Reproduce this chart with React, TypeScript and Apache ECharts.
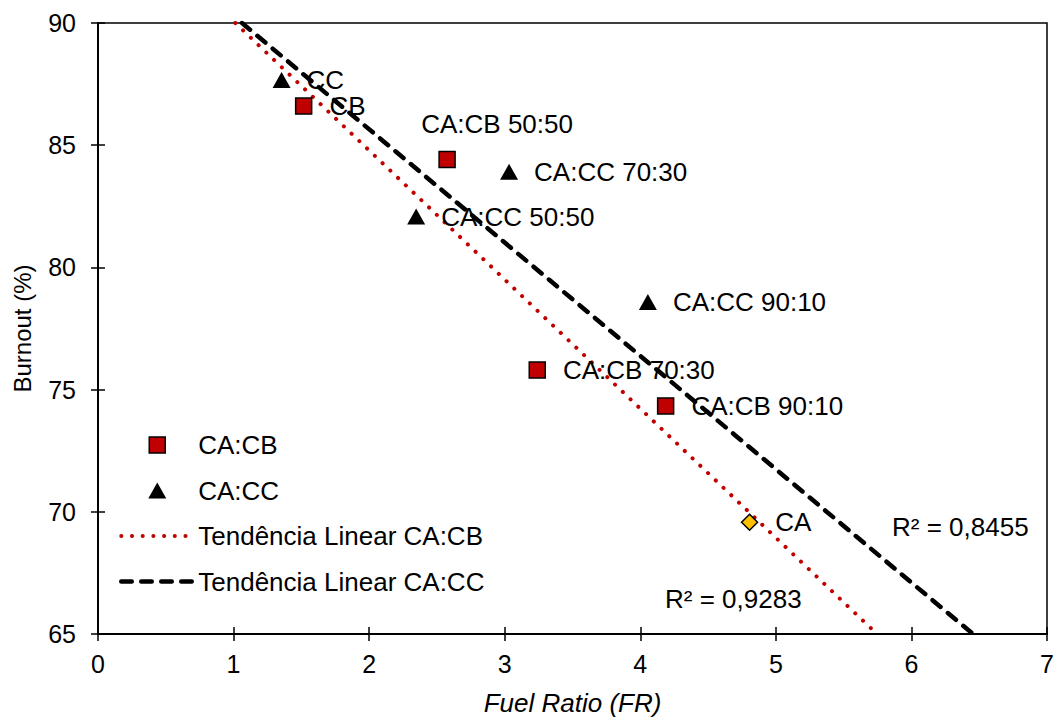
import React, { useEffect, useRef } from "react";
import * as echarts from "echarts";

const FONT = "Liberation Sans, Arial, sans-serif";

// CA:CB blends
const cbNames = ["CB", "CA:CB 50:50", "CA:CB 70:30", "CA:CB 90:10"];
const cbFR = [1.517, 2.575, 3.24, 4.187];
const cbBurnout = [86.6, 84.41, 75.8, 74.33];

// CA:CC blends
const ccNames = ["CC", "CA:CC 50:50", "CA:CC 70:30", "CA:CC 90:10"];
const ccFR = [1.354, 2.347, 3.032, 4.056];
const ccBurnout = [87.67, 82.08, 83.91, 78.58];

// Pure CA
const caNames = ["CA"];
const caFR = [4.806];
const caBurnout = [69.57];

// Linear trend lines (end points)
const trendCBFR = [1.013, 5.746];
const trendCBBurnout = [90, 65];
const trendCCFR = [1.062, 6.454];
const trendCCBurnout = [90, 65];

const r2CB = "R² = 0,9283";
const r2CC = "R² = 0,8455";

const xTicks = { min: 0, max: 7, interval: 1 };
const yTicks = { min: 65, max: 90, interval: 5 };

// legend icons: a small symbol centred in the full icon box
const squareIcon = "path://M0,0L0,0M72,16L72,16M28,0L44,0L44,16L28,16Z";
const triangleIcon = "path://M0,0L0,0M72,16L72,16M27,16L36,0L45,16Z";

export default function App() {
  const ref = useRef<HTMLDivElement>(null);

  useEffect(() => {
    if (!ref.current) return;
    const chart = echarts.init(ref.current, undefined, { renderer: "svg" });

    const labelBase = {
      show: true,
      position: "right" as const,
      color: "#000",
      fontFamily: FONT,
      fontSize: 26,
      formatter: (p: any) => p.name,
    };

    const cbData = cbNames.map((n, i) => {
      const item: any = { name: n, value: [cbFR[i], cbBurnout[i]] };
      if (n === "CA:CB 50:50") {
        item.label = { position: "top", distance: 14, offset: [50, 0] };
      }
      return item;
    });
    const ccData = ccNames.map((n, i) => ({ name: n, value: [ccFR[i], ccBurnout[i]] }));
    const caData = caNames.map((n, i) => ({ name: n, value: [caFR[i], caBurnout[i]] }));

    const axisLabel = { color: "#000", fontFamily: FONT, fontSize: 25 };

    const cbLine = { color: "#C00000", width: 4, type: [0.1, 10.6], cap: "round" };
    const ccLine = { color: "#000", width: 4.5, type: [10.5, 9.5], cap: "round" };

    chart.setOption({
      animation: false,
      backgroundColor: "#fff",
      grid: {
        left: 98,
        right: 7,
        top: 23,
        bottom: 84,
        outerBoundsMode: "none",
        containLabel: false,
        show: true,
        borderColor: "#000",
        borderWidth: 1.5,
        backgroundColor: "transparent",
      },
      xAxis: [
        {
          type: "value",
          ...xTicks,
          position: "bottom",
          name: "Fuel Ratio (FR)",
          nameLocation: "middle",
          nameGap: 56,
          nameTextStyle: { color: "#000", fontFamily: FONT, fontSize: 26, fontStyle: "italic" },
          axisLine: { show: true, onZero: false, lineStyle: { color: "#000", width: 2 } },
          axisTick: { show: true, inside: false, length: 7, lineStyle: { color: "#000", width: 1.5 } },
          axisLabel: { ...axisLabel, margin: 17 },
          splitLine: { show: false },
        },
        {
          type: "value",
          ...xTicks,
          position: "bottom",
          offset: 0,
          axisLine: { show: false, onZero: false },
          axisTick: { show: true, inside: true, length: 7, lineStyle: { color: "#000", width: 1.5 } },
          axisLabel: { show: false },
          splitLine: { show: false },
        },
      ],
      yAxis: [
        {
          type: "value",
          ...yTicks,
          position: "left",
          name: "Burnout (%)",
          nameLocation: "middle",
          nameRotate: 90,
          nameGap: 64,
          nameTextStyle: { color: "#000", fontFamily: FONT, fontSize: 24 },
          axisLine: { show: true, onZero: false, lineStyle: { color: "#000", width: 2 } },
          axisTick: { show: true, inside: false, length: 7, lineStyle: { color: "#000", width: 1.5 } },
          axisLabel: { ...axisLabel, margin: 22 },
          splitLine: { show: false },
        },
        {
          type: "value",
          ...yTicks,
          position: "left",
          offset: 0,
          axisLine: { show: false, onZero: false },
          axisTick: { show: true, inside: true, length: 7, lineStyle: { color: "#000", width: 1.5 } },
          axisLabel: { show: false },
          splitLine: { show: false },
        },
      ],
      legend: {
        orient: "vertical",
        left: 114,
        top: 427,
        itemWidth: 72,
        itemHeight: 16,
        itemGap: 19.5,
        data: [
          { name: "CA:CB", icon: squareIcon, itemStyle: { color: "#C00000", borderColor: "#000", borderWidth: 1.5 } },
          { name: "CA:CC", icon: triangleIcon, itemStyle: { color: "#000", borderWidth: 0 } },
          { name: "Tendência Linear CA:CB", itemStyle: { opacity: 0 }, lineStyle: cbLine },
          { name: "Tendência Linear CA:CC", itemStyle: { opacity: 0 }, lineStyle: ccLine },
        ],
        textStyle: { color: "#000", fontFamily: FONT, fontSize: 26, lineHeight: 26 },
        selectedMode: false,
      },
      series: [
        {
          name: "Tendência Linear CA:CB",
          type: "line",
          data: trendCBFR.map((x, i) => [x, trendCBBurnout[i]]),
          symbol: "none",
          showSymbol: false,
          z: 1,
          lineStyle: cbLine,
          itemStyle: { color: "#C00000" },
        },
        {
          name: "Tendência Linear CA:CC",
          type: "line",
          data: trendCCFR.map((x, i) => [x, trendCCBurnout[i]]),
          symbol: "none",
          showSymbol: false,
          z: 1,
          lineStyle: ccLine,
          itemStyle: { color: "#000" },
        },
        {
          name: "CA:CB",
          type: "scatter",
          data: cbData,
          symbol: "rect",
          symbolSize: 16,
          z: 3,
          itemStyle: { color: "#C00000", borderColor: "#000", borderWidth: 1.5, opacity: 1 },
          label: { ...labelBase, distance: 17 },
        },
        {
          name: "CA:CC",
          type: "scatter",
          data: ccData,
          symbol: "triangle",
          symbolSize: [18, 16],
          z: 3,
          itemStyle: { color: "#000", opacity: 1 },
          label: { ...labelBase, distance: 16 },
        },
        {
          name: "CA",
          type: "scatter",
          data: caData,
          symbol: "diamond",
          symbolSize: 16,
          z: 3,
          itemStyle: { color: "#FFC000", borderColor: "#000", borderWidth: 1.5, opacity: 1 },
          label: { ...labelBase, distance: 17 },
        },
      ],
      graphic: [
        {
          type: "text",
          left: 665,
          top: 586,
          style: { text: r2CB, fill: "#000", font: `26px ${FONT}` },
        },
        {
          type: "text",
          left: 892,
          top: 514,
          style: { text: r2CC, fill: "#000", font: `26px ${FONT}` },
        },
      ],
    });

    return () => chart.dispose();
  }, []);

  return (
    <div
      ref={ref}
      style={{ position: "fixed", left: 0, top: 0, width: 1054, height: 718, background: "#fff" }}
    />
  );
}
